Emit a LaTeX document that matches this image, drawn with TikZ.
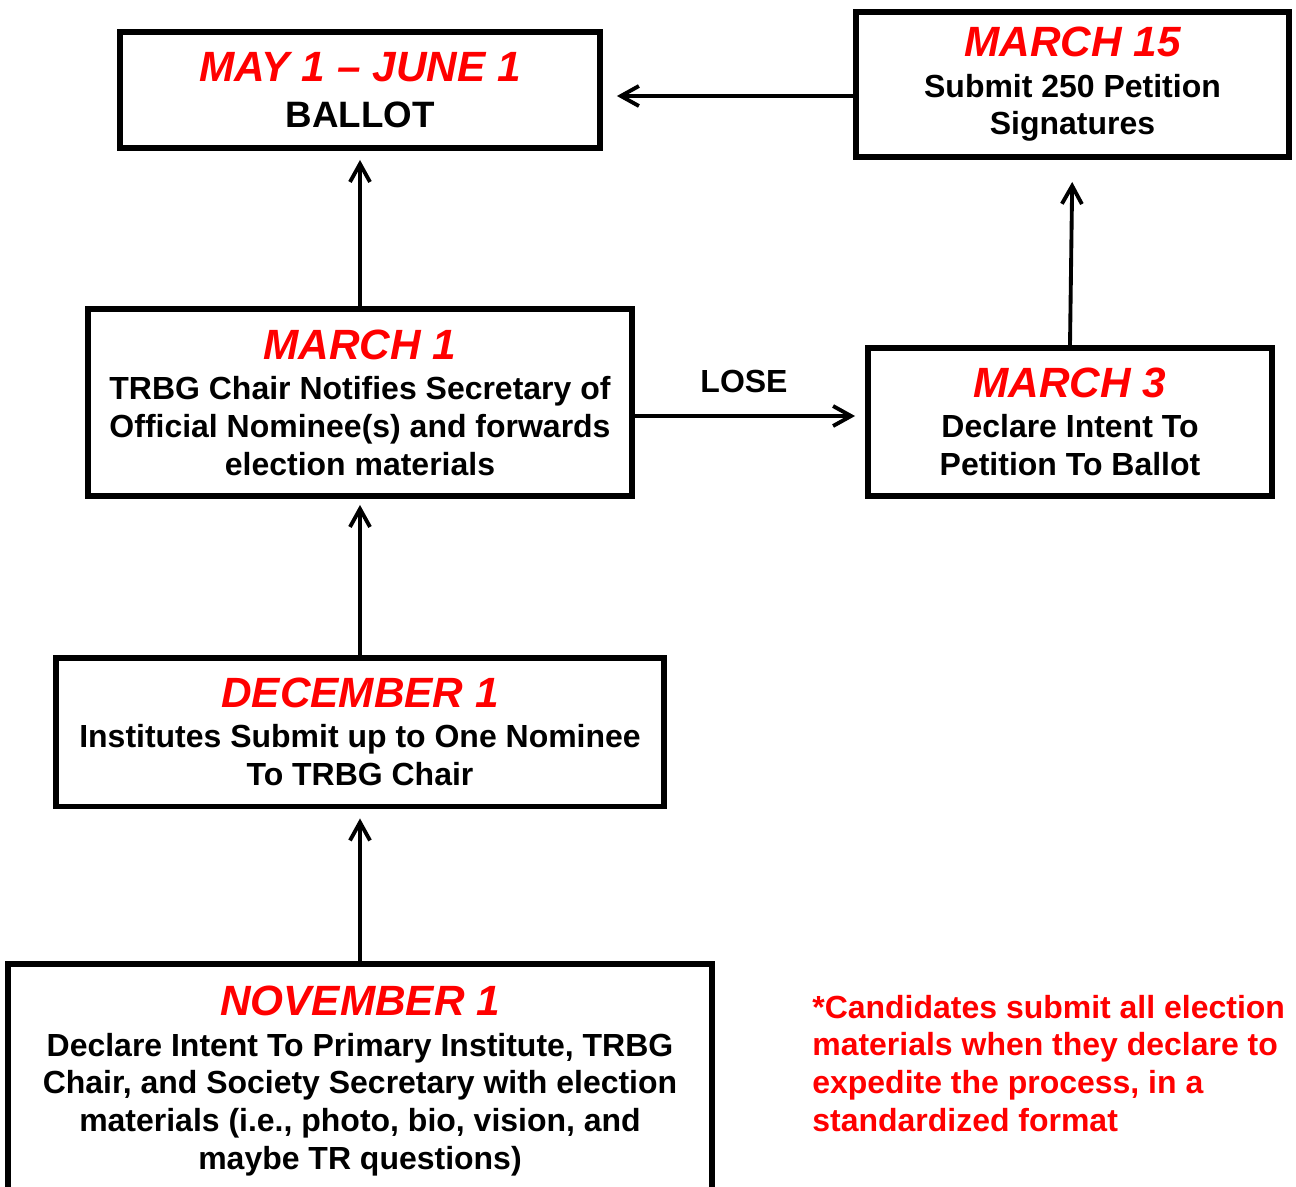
\documentclass[tikz,border=0pt]{standalone}
\usepackage{fontspec}
\setmainfont{Liberation Sans}
\usetikzlibrary{arrows.meta}
\definecolor{datered}{RGB}{255,0,0}
\newcommand{\datefont}{\fontsize{24.1}{28}\selectfont\bfseries\itshape\color{datered}}
\newcommand{\bodyfont}{\fontsize{18.2}{21.5}\selectfont\bfseries}

\tikzset{
  datebox/.style={draw, line width=3.4pt, inner sep=0pt, align=center, font=\bodyfont},
  flow/.style={-{Straight Barb[length=0.36cm,width=0.4cm]}, line width=2.2pt}
}

\begin{document}
\begin{tikzpicture}[x=0.02cm, y=-0.02cm]
    \useasboundingbox (0,0) rectangle (1296,1187);

    % boxes, top to bottom
    \node[datebox, minimum width=9.6cm, minimum height=2.32cm] (ballot) at (360,90)
      {{\datefont MAY 1 – JUNE 1}\\[4.6pt] {\fontsize{20.9}{26}\selectfont BALLOT}};
    \node[datebox, minimum width=8.66cm, minimum height=2.9cm] (m15) at (1072.5,84.5)
      {{\datefont MARCH 15}\\[1.5pt] Submit 250 Petition\\ Signatures};
    \node[datebox, minimum width=10.88cm, minimum height=3.74cm] (m1) at (360,402.5)
      {{\datefont MARCH 1}\\[1.5pt] TRBG Chair Notifies Secretary of\\ Official Nominee(s) and forwards\\ election materials};
    \node[datebox, minimum width=8.08cm, minimum height=2.95cm] (m3) at (1070,421.8)
      {{\datefont MARCH 3}\\[1.5pt] Declare Intent To\\ Petition To Ballot};
    \node[datebox, minimum width=12.16cm, minimum height=2.98cm] (d1) at (360,732)
      {{\datefont DECEMBER 1}\\[1.5pt] Institutes Submit up to One Nominee\\ To TRBG Chair};
    \node[datebox, minimum width=14.07cm, minimum height=4.68cm] (n1) at (360,1081)
      {{\datefont NOVEMBER 1}\\[1.5pt] Declare Intent To Primary Institute, TRBG\\ Chair, and Society Secretary with election\\ materials (i.e., photo, bio, vision, and\\ maybe TR questions)};

    % footnote
    \node[anchor=north west, align=left, inner sep=0pt, text=datered, font=\bodyfont] (note) at (812,994.5)
      {*Candidates submit all election\\ materials when they declare to\\ expedite the process, in a\\ standardized format};

    % arrows
    \draw[flow, shorten >=0.18cm] (n1.north) -- (d1.south);
    \draw[flow, shorten >=0.12cm] (d1.north) -- (m1.south);
    \draw[flow, shorten >=0.18cm] (m1.north) -- (ballot.south);
    \draw[flow, shorten >=0.2cm] ([yshift=-0.27cm]m1.east) -- ([yshift=0.116cm]m3.west)
      node[midway, above=11.9pt, xshift=-0.12cm, inner sep=0pt, font=\bodyfont] (lose) {LOSE};
    \draw[flow, shorten >=0.44cm] (m3.north) -- (m15.south);
    \draw[flow, shorten >=0.28cm] ([yshift=-0.23cm]m15.west) -- ([yshift=-0.12cm]ballot.east);
\end{tikzpicture}
\end{document}
